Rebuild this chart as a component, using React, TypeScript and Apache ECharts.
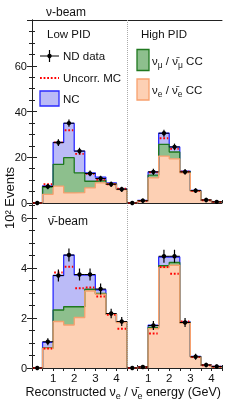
import React, { useEffect, useRef } from 'react';
import * as echarts from 'echarts';

// ---- data (units of 10^2 events) ----
// bins: Low PID (9 bins of 0.5 GeV) followed by High PID (9 bins)
const binStarts = [0, 0.5, 1, 1.5, 2, 2.5, 3, 3.5, 4];
const binWidth = 0.5;
const pidOffset = 4.5;
const xTickValues = [1, 2, 3, 4];

// nu-beam
const nuNueCC = [0, 3.8, 7.4, 4.4, 4.5, 6.6, 8.8, 8.1, 5.9, 0, 0.9, 11.0, 20.5, 19.3, 13.2, 5.1, 1.2, 0.4];
const nuNumuCC = [0, 3.2, 9.5, 15.4, 8.7, 2.9, 1.0, 0.2, 0.1, 0, 0.1, 1.2, 5.1, 3.0, 0.4, 0.2, 0.05, 0.05];
const nuNC = [0, 0.5, 9.6, 15.0, 9.5, 3.7, 1.5, 0.5, 0.3, 0, 0.1, 1.4, 4.9, 2.2, 0.3, 0.2, 0.05, 0.05];
const nuData = [0, 7.2, 26.4, 34.9, 22.7, 12.9, 10.7, 8.2, 6.0, 0, 1.0, 13.6, 30.5, 24.5, 13.6, 5.4, 1.3, 0.5];
const nuDataErr = [0, 0.5, 0.8, 0.9, 0.8, 0.6, 0.6, 0.5, 0.5, 0, 0.3, 0.7, 0.9, 0.8, 0.6, 0.4, 0.3, 0.2];
const nuUncorrMC = [0, 8.2, 26.5, 31.8, 21.5, 12.7, 10.1, 8.2, 6.3, 0, 0.9, 13.4, 28.3, 23.7, 13.7, 5.3, 1.2, 0.5];

// nubar-beam
const nubarNueCC = [0, 0.78, 1.86, 1.72, 2.02, 3.08, 2.95, 2.15, 1.82, 0, 0.03, 1.57, 4.02, 4.11, 1.80, 0.44, 0.11, 0.05];
const nubarNumuCC = [0, 0.02, 0.46, 0.73, 0.43, 0.07, 0.03, 0.01, 0.01, 0, 0, 0.05, 0.07, 0.11, 0.02, 0.01, 0, 0];
const nubarNC = [0, 0.23, 1.38, 2.06, 1.27, 0.57, 0.15, 0.01, 0.02, 0, 0.01, 0.09, 0.35, 0.22, 0.02, 0.01, 0.01, 0.01];
const nubarData = [0, 1.05, 3.70, 4.52, 3.74, 3.74, 3.16, 2.18, 1.86, 0, 0.04, 1.70, 4.47, 4.47, 1.82, 0.45, 0.12, 0.06];
const nubarDataErr = [0, 0.08, 0.18, 0.2, 0.18, 0.18, 0.16, 0.13, 0.12, 0, 0.02, 0.12, 0.2, 0.2, 0.12, 0.06, 0.03, 0.02];
const nubarUncorrMC = [0, 0.78, 3.82, 4.05, 3.19, 3.22, 2.86, 2.13, 1.57, 0, 0.03, 1.38, 4.04, 3.77, 1.86, 0.44, 0.11, 0.05];

const FONT = '"Liberation Sans", Arial, Helvetica, sans-serif';
const C = {
  orangeFill: '#fdd0b4', orangeLine: '#f7a06e',
  greenFill: '#8dbf8d', greenLine: '#1f781f',
  blueFill: '#bbbbf7', blueLine: '#2b2bff',
  red: '#ff0000', axis: '#222', text: '#111',
};

const xs = [...binStarts, ...binStarts.map((b) => b + pidOffset)];

function stepData(vals: number[]) {
  const pts = xs.map((x, i) => [x, vals[i]]);
  pts.push([xs[xs.length - 1] + binWidth, vals[vals.length - 1]]);
  return pts;
}

function histSeries(vals: number[], fill: string, line: string, xi: number, yi: number, name: string, extra: any = {}) {
  return {
    type: 'line', name, xAxisIndex: xi, yAxisIndex: yi, step: 'end', symbol: 'none', showSymbol: false,
    data: stepData(vals), areaStyle: { color: fill, opacity: 1 }, lineStyle: { color: line, width: 1.3 },
    silent: true, z: 2, ...extra,
  };
}

function dataSeries(vals: number[], errs: number[], xi: number, yi: number) {
  return {
    type: 'custom', xAxisIndex: xi, yAxisIndex: yi, z: 5, silent: true,
    data: xs.map((x, i) => [x, x + binWidth, vals[i], errs[i]]),
    encode: { x: [0, 1], y: 2 },
    renderItem: (_p: any, api: any) => {
      const x0 = api.value(0), x1 = api.value(1), y = api.value(2), e = api.value(3);
      const pl = api.coord([x0, y]), pr = api.coord([x1, y]);
      const xc = (x0 + x1) / 2;
      const pt = api.coord([xc, y + e]), pb = api.coord([xc, y - e]), pc = api.coord([xc, y]);
      return {
        type: 'group', children: [
          { type: 'line', shape: { x1: pl[0], y1: pl[1], x2: pr[0], y2: pr[1] }, style: { stroke: '#000', lineWidth: 1 } },
          { type: 'line', shape: { x1: pt[0], y1: pt[1] - 1.5, x2: pb[0], y2: pb[1] + 1.5 }, style: { stroke: '#000', lineWidth: 1.2 } },
          { type: 'circle', shape: { cx: pc[0], cy: pc[1], r: 2.2 }, style: { fill: '#000' } },
        ],
      };
    },
  };
}

function mcSeries(vals: number[], xi: number, yi: number) {
  return {
    type: 'custom', xAxisIndex: xi, yAxisIndex: yi, z: 4, silent: true,
    data: xs.map((x, i) => [x, x + binWidth, vals[i]]),
    encode: { x: [0, 1], y: 2 },
    renderItem: (_p: any, api: any) => {
      const y = api.value(2);
      const pl = api.coord([api.value(0), y]), pr = api.coord([api.value(1), y]);
      return {
        type: 'line', shape: { x1: pl[0] + 1, y1: pl[1], x2: pr[0] - 1, y2: pr[1] },
        style: { stroke: C.red, lineWidth: 1.8, lineDash: [1.8, 1.8] },
      };
    },
  };
}

const cum2 = (a: number[], b: number[]) => a.map((v, i) => v + b[i]);
const cum3 = (a: number[], b: number[], c: number[]) => a.map((v, i) => v + b[i] + c[i]);

function xFormatter(v: number) {
  const r = v < pidOffset ? v : v - pidOffset;
  const t = xTickValues.find((k) => Math.abs(k - r) < 1e-6);
  return t !== undefined ? String(t) : '';
}

const divider = {
  silent: true, symbol: ['none', 'none'], label: { show: false },
  lineStyle: { type: 'dotted', color: '#aaa', width: 1 },
  data: [{ xAxis: pidOffset }],
};

function xAx(grid: number, pos: string, opts: any) {
  return {
    gridIndex: grid, type: 'value', min: 0, max: pidOffset * 2, interval: binWidth, position: pos,
    axisLine: { show: true, onZero: false, lineStyle: { color: C.axis, width: 1 } },
    axisTick: { show: true, inside: true, length: 3, lineStyle: { color: C.axis } },
    axisLabel: { show: false }, splitLine: { show: false }, ...opts,
  };
}

function yAx(grid: number, pos: string, max: number, interval: number, showLabel: boolean) {
  return {
    gridIndex: grid, type: 'value', min: 0, max, interval, position: pos,
    axisLine: { show: true, lineStyle: { color: C.axis, width: 1 } },
    axisTick: { show: true, inside: true, length: 5, lineStyle: { color: C.axis } },
    minorTick: { show: true, splitNumber: 4, length: 3, lineStyle: { color: C.axis } },
    axisLabel: { show: showLabel, fontSize: 11, color: C.text, fontFamily: FONT, margin: 5, showMaxLabel: false },
    splitLine: { show: false }, minorSplitLine: { show: false },
  };
}

const nText = { fontSize: 11.5, fontFamily: FONT, fill: C.text, lineHeight: 16, verticalAlign: 'middle' };
const sText = { fontSize: 8.5, fontFamily: FONT, fill: C.text, lineHeight: 9, verticalAlign: 'bottom' };

export default function App() {
  const ref = useRef<HTMLDivElement>(null);
  useEffect(() => {
    if (!ref.current) return;
    const chart = echarts.init(ref.current, null, { renderer: 'svg' });
    const option: any = {
      animation: false,
      textStyle: { fontFamily: FONT },
      grid: [
        { left: 32, right: 25, top: 20, height: 183 },
        { left: 32, right: 25, top: 203, height: 165 },
      ],
      xAxis: [
        xAx(0, 'bottom', {}),
        xAx(0, 'top', { axisTick: { show: false } }),
        xAx(1, 'bottom', { axisLabel: { show: true, formatter: xFormatter, fontSize: 11.5, color: C.text, fontFamily: FONT, margin: 4 } }),
        xAx(1, 'top', { axisLine: { show: false } }),
      ],
      yAxis: [
        yAx(0, 'left', 80, 20, true),
        yAx(0, 'right', 80, 20, false),
        yAx(1, 'left', 6.6, 2, true),
        yAx(1, 'right', 6.6, 2, false),
      ],
      series: [
        histSeries(cum3(nuNueCC, nuNumuCC, nuNC), C.blueFill, C.blueLine, 0, 0, 'NC', { markLine: divider }),
        histSeries(cum2(nuNueCC, nuNumuCC), C.greenFill, C.greenLine, 0, 0, 'numu CC'),
        histSeries(nuNueCC, C.orangeFill, C.orangeLine, 0, 0, 'nue CC'),
        mcSeries(nuUncorrMC, 0, 0),
        dataSeries(nuData, nuDataErr, 0, 0),
        histSeries(cum3(nubarNueCC, nubarNumuCC, nubarNC), C.blueFill, C.blueLine, 2, 2, 'NC b', { markLine: divider }),
        histSeries(cum2(nubarNueCC, nubarNumuCC), C.greenFill, C.greenLine, 2, 2, 'numu CC b'),
        histSeries(nubarNueCC, C.orangeFill, C.orangeLine, 2, 2, 'nue CC b'),
        mcSeries(nubarUncorrMC, 2, 2),
        dataSeries(nubarData, nubarDataErr, 2, 2),
      ],
      graphic: [
        { type: 'text', x: 46, y: 12, style: { text: 'ν-beam', fontSize: 12, fontFamily: FONT, fill: C.text, align: 'left', verticalAlign: 'middle' } },
        { type: 'text', x: 48, y: 221, style: { text: 'ν̄-beam', fontSize: 12, fontFamily: FONT, fill: C.text, align: 'left', verticalAlign: 'middle' } },
        { type: 'text', x: 47, y: 34, style: { text: 'Low PID', fontSize: 11.5, fontFamily: FONT, fill: C.text, align: 'left', verticalAlign: 'middle' } },
        { type: 'text', x: 141, y: 34, style: { text: 'High PID', fontSize: 11.5, fontFamily: FONT, fill: C.text, align: 'left', verticalAlign: 'middle' } },
        // ND data
        { type: 'line', shape: { x1: 40, y1: 56, x2: 59, y2: 56 }, style: { stroke: '#000', lineWidth: 1 } },
        { type: 'line', shape: { x1: 49.5, y1: 50, x2: 49.5, y2: 62 }, style: { stroke: '#000', lineWidth: 1.2 } },
        { type: 'circle', shape: { cx: 49.5, cy: 56, r: 2.2 }, style: { fill: '#000' } },
        { type: 'text', x: 63, y: 56, style: { text: 'ND data', fontSize: 11.5, fontFamily: FONT, fill: C.text, align: 'left', verticalAlign: 'middle' } },
        // Uncorr MC
        { type: 'line', shape: { x1: 40, y1: 78, x2: 59, y2: 78 }, style: { stroke: C.red, lineWidth: 1.8, lineDash: [1.8, 1.8] } },
        { type: 'text', x: 63, y: 78, style: { text: 'Uncorr. MC', fontSize: 11.5, fontFamily: FONT, fill: C.text, align: 'left', verticalAlign: 'middle' } },
        // NC
        { type: 'rect', shape: { x: 40, y: 91, width: 19, height: 15 }, style: { fill: C.blueFill, stroke: C.blueLine, lineWidth: 1.3 } },
        { type: 'text', x: 63, y: 98.5, style: { text: 'NC', fontSize: 11.5, fontFamily: FONT, fill: C.text, align: 'left', verticalAlign: 'middle' } },
        // numu CC
        { type: 'rect', shape: { x: 137, y: 49.5, width: 12, height: 21 }, style: { fill: C.greenFill, stroke: C.greenLine, lineWidth: 1.3 } },
        { type: 'text', x: 152, y: 61, style: { text: '{n|ν}{s|μ}{n| / ν̄}{s|μ}{n| CC}', rich: { n: nText, s: sText }, align: 'left', verticalAlign: 'middle' } },
        // nue CC
        { type: 'rect', shape: { x: 137, y: 79, width: 12, height: 21 }, style: { fill: C.orangeFill, stroke: C.orangeLine, lineWidth: 1.3 } },
        { type: 'text', x: 152, y: 90, style: { text: '{n|ν}{s|e}{n| / ν̄}{s|e}{n| CC}', rich: { n: nText, s: sText }, align: 'left', verticalAlign: 'middle' } },
        // axis titles
        { type: 'text', x: 221, y: 392, style: { text: '{n|Reconstructed ν}{s|e}{n| / ν̄}{s|e}{n| energy (GeV)}', rich: { n: { ...nText, fontSize: 12.5 }, s: { ...sText, fontSize: 9 } }, align: 'right', verticalAlign: 'middle' } },
        { type: 'text', x: 9, y: 198, rotation: Math.PI / 2, style: { text: '10² Events', fontSize: 13, fontFamily: FONT, fill: C.text, align: 'center', verticalAlign: 'middle' } },
      ],
    };
    chart.setOption(option);
    return () => chart.dispose();
  }, []);
  return <div ref={ref} style={{ position: 'fixed', left: 0, top: 0, width: 247, height: 405 }} />;
}
